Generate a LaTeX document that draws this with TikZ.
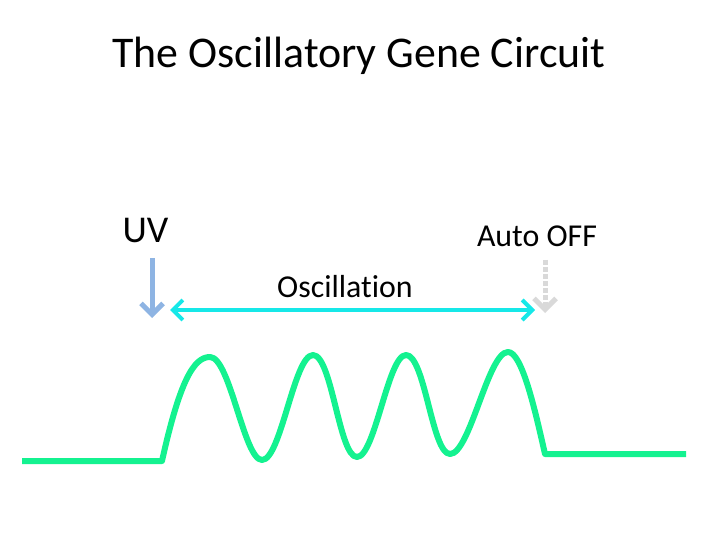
\documentclass[tikz,border=0pt]{standalone}
\usepackage{fontspec}
\setmainfont{Carlito}[Ligatures=NoCommon]
\usetikzlibrary{arrows.meta}

\definecolor{uvblue}{RGB}{142,180,227}
\definecolor{osccyan}{RGB}{22,232,232}
\definecolor{wavegreen}{RGB}{20,242,144}
\definecolor{offgray}{RGB}{217,217,217}

\begin{document}
\begin{tikzpicture}[x=1bp, y=-1bp,
  heading/.style={font=\fontsize{44}{50}\selectfont, anchor=base},
  label/.style={font=\fontsize{32}{36}\selectfont, anchor=base},
  uvarrow/.style={line width=5bp, uvblue, -{Straight Barb[length=11bp, width=22bp]}},
  span/.style={line width=4bp, osccyan, {Straight Barb[length=10bp, width=20bp]}-{Straight Barb[length=10bp, width=20bp]}},
  offarrow/.style={line width=5bp, offgray, dotted, -{Straight Barb[length=11bp, width=22bp]}},
  signal/.style={line width=6bp, wavegreen, line join=round}
]
  \useasboundingbox (0,0) rectangle (720,540);

  \node[heading] (title) at (359,68) {The Oscillatory Gene Circuit};
  \node[label, anchor=base west, font=\fontsize{38}{42}\selectfont] (uv) at (119,243) {UV};
  \node[label] (osc) at (345,297) {Oscillation};
  \node[label] (off) at (537,247) {Auto OFF};

  \coordinate (uvtop) at (152,258);
  \coordinate (uvtip) at (152,318);
  \coordinate (oscl) at (170,310);
  \coordinate (oscr) at (535,310);
  \coordinate (offtop) at (545,260);
  \coordinate (offtip) at (545,313);

  \draw[uvarrow] (uvtop) -- (uvtip);
  \draw[span] (oscl) -- (oscr);
  \draw[offarrow] (offtop) -- (offtip);

  % the oscillating signal
  \draw[signal] (22,461) -- (162,461)
    .. controls (180,380) and (194,357) .. (210,357)
    .. controls (230,357) and (244,460) .. (262,460)
    .. controls (281,460) and (294,355) .. (313,355)
    .. controls (332,355) and (339,457) .. (357,457)
    .. controls (375,457) and (388,355) .. (406,355)
    .. controls (425,355) and (432,454) .. (450,454)
    .. controls (470,454) and (488,352) .. (508,352)
    .. controls (522,352) and (535,410) .. (545,454)
    -- (686,454);
\end{tikzpicture}
\end{document}
